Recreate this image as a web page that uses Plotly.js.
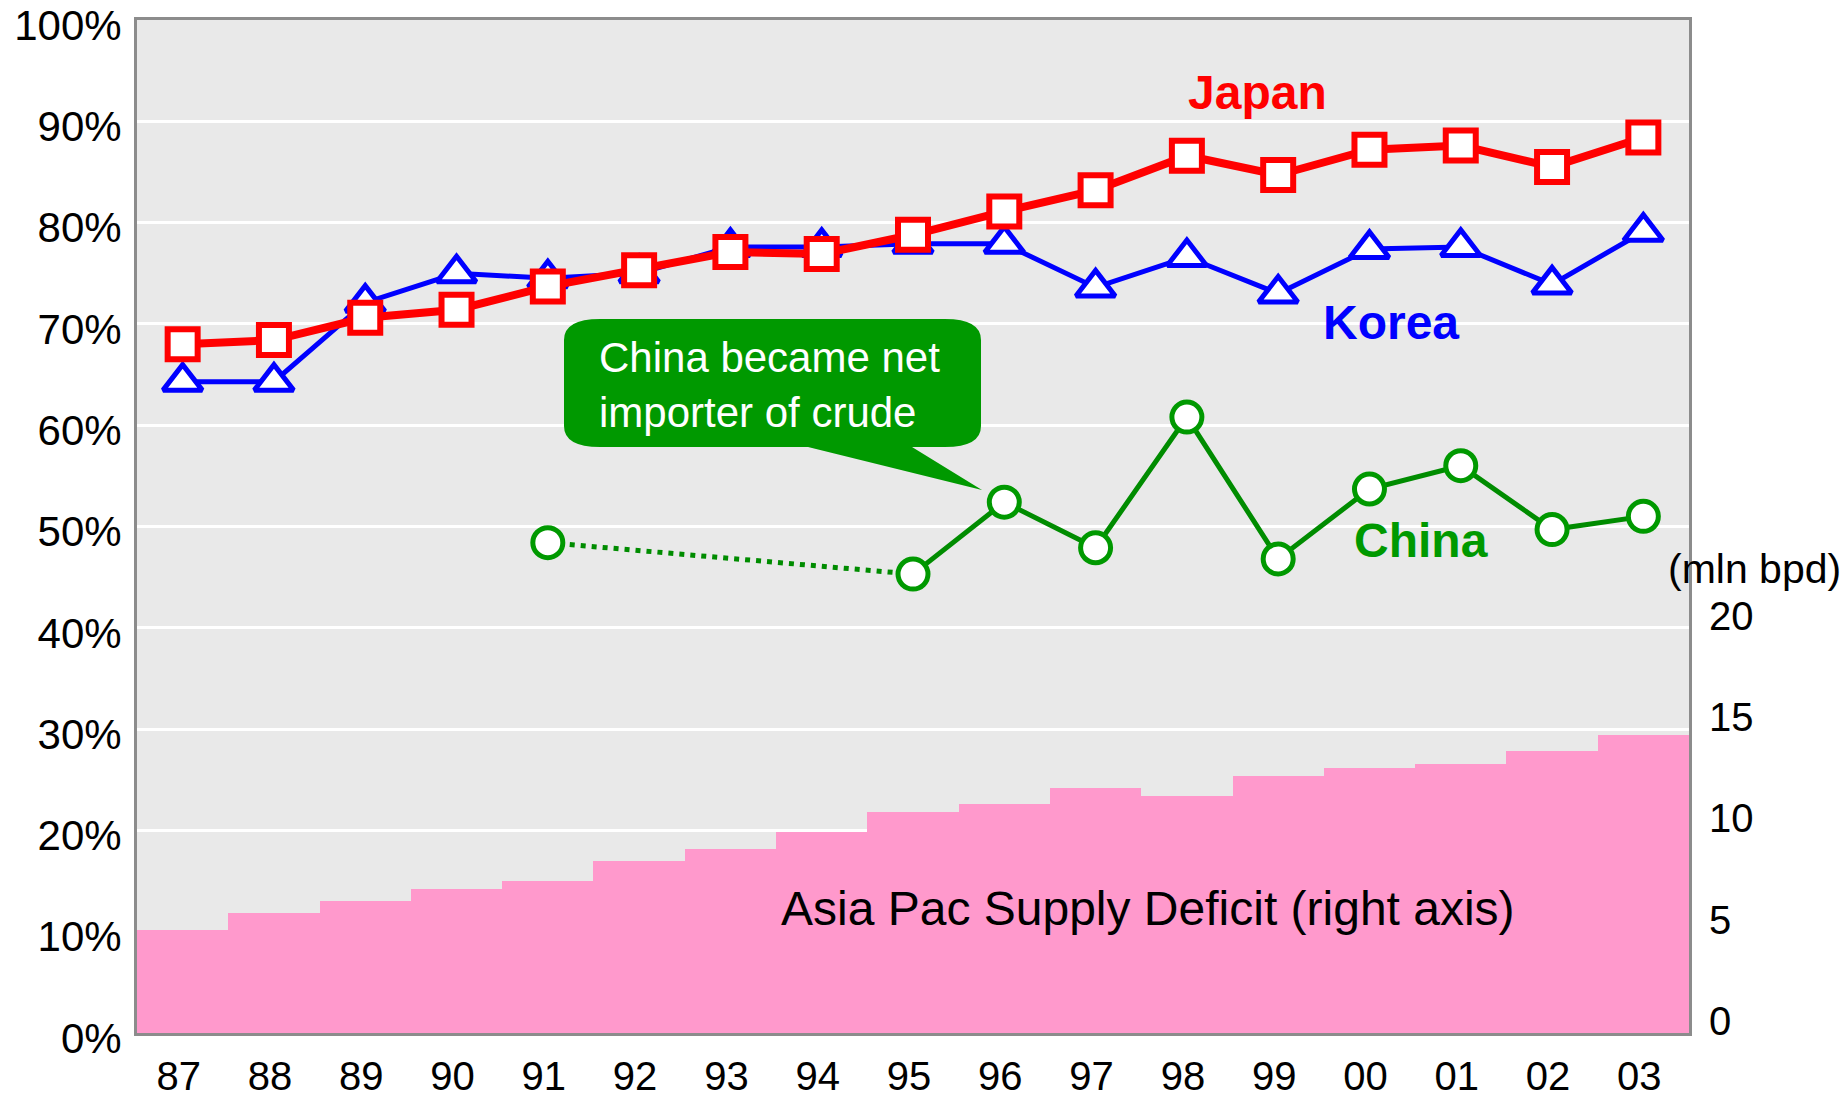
<!DOCTYPE html>
<html>
<head>
<meta charset="utf-8">
<script src="https://cdn.plot.ly/plotly-3.0.1.min.js"></script>
<style>
html,body{margin:0;padding:0;background:#ffffff;}
#chart{width:1846px;height:1098px;}
</style>
</head>
<body>
<div id="chart"></div>
<script>
// ---- data ----
const years   = ['87','88','89','90','91','92','93','94','95','96','97','98','99','00','01','02','03'];
const japan   = [68.0, 68.4, 70.6, 71.4, 73.7, 75.3, 77.1, 76.9, 78.8, 81.1, 83.2, 86.6, 84.7, 87.2, 87.6, 85.5, 88.4];
const korea   = [64.3, 64.3, 72.1, 75.0, 74.5, 75.0, 77.6, 77.6, 77.9, 77.9, 73.6, 76.6, 73.0, 77.4, 77.6, 73.9, 79.1];
const china   = [null, null, null, null, 48.4, null, null, null, 45.3, 52.4, 47.9, 60.8, 46.8, 53.7, 56.0, 49.7, 51.0];
const deficit = [5.1, 5.9, 6.5, 7.1, 7.5, 8.5, 9.1, 9.9, 10.9, 11.3, 12.1, 11.7, 12.7, 13.1, 13.3, 13.9, 14.7];
const leftTicks  = [0, 10, 20, 30, 40, 50, 60, 70, 80, 90, 100];
const leftTickText = leftTicks.map(v => v + '%');
const rightTicks = [0, 5, 10, 15, 20];

// ---- geometry helpers (pixel -> paper) ----
const W = 1846, H = 1098, PL = 137, PR = 1689, PT = 20, PB = 1033;
const fx = p => (p - PL) / (PR - PL);
const fy = p => (PB - p) / (PB - PT);
const P = (x, y) => fx(x).toFixed(5) + ',' + fy(y).toFixed(5);
const FONT = '"Liberation Sans", Arial, Helvetica, sans-serif';

// dotted link between the first two reported China points
const chinaIdx = china.map((v, i) => (v == null ? -1 : i)).filter(i => i >= 0);
const dotX = [years[chinaIdx[0]], years[chinaIdx[1]]];
const dotY = [china[chinaIdx[0]], china[chinaIdx[1]]];

const traces = [
  {type: 'bar', x: years, y: deficit, yaxis: 'y2',
   marker: {color: '#FF99CC', line: {width: 0}}, hoverinfo: 'skip'},
  {type: 'scatter', mode: 'lines', x: dotX, y: dotY,
   line: {color: '#008C00', width: 5, dash: '5px,6px'}},
  {type: 'scatter', mode: 'lines+markers', x: years, y: china, connectgaps: false,
   line: {color: '#008C00', width: 5},
   marker: {symbol: 'circle', size: 30, color: '#ffffff', line: {color: '#009900', width: 5}}},
  {type: 'scatter', mode: 'lines+markers', x: years, y: korea,
   line: {color: '#0000FF', width: 5},
   marker: {symbol: 'triangle-up', size: 34, color: '#ffffff', line: {color: '#0000FF', width: 5}}},
  {type: 'scatter', mode: 'lines+markers', x: years, y: japan,
   line: {color: '#FF0000', width: 8},
   marker: {symbol: 'square', size: 30, color: '#ffffff', line: {color: '#FF0000', width: 6}}}
];

// callout bubble
const bx1 = 564, bx2 = 981, by1 = 319, by2 = 447, rx = 36, ry = 21;
const calloutPath =
  'M' + P(bx1 + rx, by1) +
  ' L' + P(bx2 - rx, by1) +
  ' Q' + P(bx2, by1) + ' ' + P(bx2, by1 + ry) +
  ' L' + P(bx2, by2 - ry) +
  ' Q' + P(bx2, by2) + ' ' + P(bx2 - rx, by2) +
  ' L' + P(912, by2) +
  ' L' + P(982, 490) +
  ' L' + P(808, by2) +
  ' L' + P(bx1 + rx, by2) +
  ' Q' + P(bx1, by2) + ' ' + P(bx1, by2 - ry) +
  ' L' + P(bx1, by1 + ry) +
  ' Q' + P(bx1, by1) + ' ' + P(bx1 + rx, by1) + ' Z';

const ann = (text, x, y, size, color, xanchor, extra) => Object.assign({
  text: text, xref: 'paper', yref: 'paper', x: fx(x), y: fy(y),
  xanchor: xanchor || 'center', yanchor: 'middle', showarrow: false,
  font: {family: FONT, size: size, color: color}
}, extra || {});

const layout = {
  width: W, height: H,
  margin: {l: PL, r: W - PR, t: PT, b: H - PB, pad: 0},
  paper_bgcolor: '#ffffff', plot_bgcolor: '#E9E9E9',
  showlegend: false, bargap: 0,
  font: {family: FONT, size: 40, color: '#000000'},
  xaxis: {type: 'category', range: [-0.5, 16.5], showgrid: false, zeroline: false,
          showline: true, linecolor: '#8C8C8C', linewidth: 3, mirror: true,
          ticks: '', tickfont: {size: 40}, ticklabelstandoff: 6, ticklabelshift: -4},
  yaxis: {range: [0, 100], tickvals: leftTicks, ticktext: leftTickText,
          showgrid: true, gridcolor: '#ffffff', gridwidth: 3, zeroline: false,
          showline: true, linecolor: '#8C8C8C', linewidth: 3, mirror: true,
          ticks: '', tickfont: {size: 42}, ticklabelstandoff: 4, ticklabelshift: 5,
          ticklabeloverflow: 'allow'},
  yaxis2: {overlaying: 'y', side: 'right', range: [0, 50], tickvals: rightTicks,
           showgrid: false, zeroline: false, showline: false,
           ticks: '', tickfont: {size: 40}, ticklabelstandoff: 19, ticklabelshift: -12,
           ticklabeloverflow: 'allow'},
  shapes: [
    {type: 'path', xref: 'paper', yref: 'paper', path: calloutPath,
     fillcolor: '#009900', line: {width: 0}, layer: 'above'}
  ],
  annotations: [
    ann('<b>Japan</b>', 1257, 92.5, 48, '#FF0000'),
    ann('<b>Korea</b>', 1390.5, 322.5, 48, '#0000FF'),
    ann('<b>China</b>', 1420.5, 540, 48, '#009900'),
    ann('Asia Pac Supply Deficit (right axis)', 1147.5, 908, 48, '#000000'),
    ann('(mln bpd)', 1754.5, 569, 41, '#000000'),
    ann('China became net<br>importer of crude', 597, 385, 42, '#ffffff', 'left', {align: 'left'})
  ]
};

Plotly.newPlot('chart', traces, layout, {displayModeBar: false, staticPlot: true});
</script>
</body>
</html>
